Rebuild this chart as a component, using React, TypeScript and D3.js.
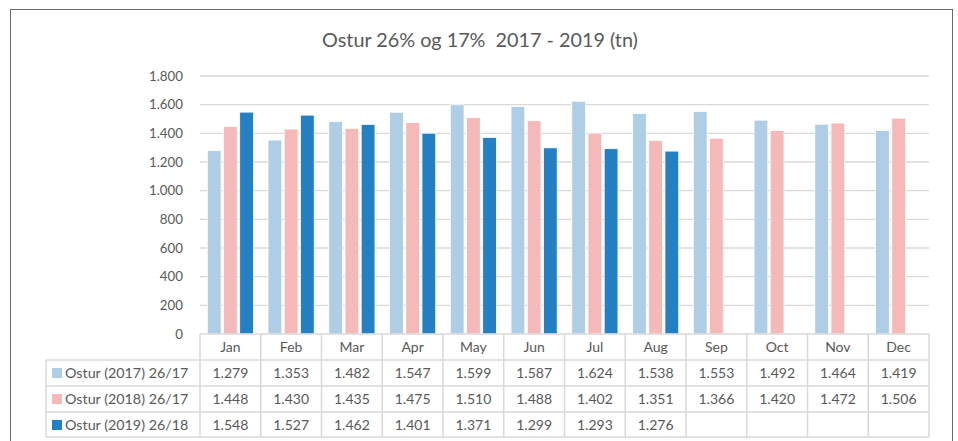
import { useEffect } from 'react';
import * as d3 from 'd3';

const months = ['Jan', 'Feb', 'Mar', 'Apr', 'May', 'Jun', 'Jul', 'Aug', 'Sep', 'Oct', 'Nov', 'Dec'];
const seriesNames = ['Ostur (2017) 26/17', 'Ostur (2018) 26/17', 'Ostur (2019) 26/18'];
const v2017 = [1279, 1353, 1482, 1547, 1599, 1587, 1624, 1538, 1553, 1492, 1464, 1419];
const v2018 = [1448, 1430, 1435, 1475, 1510, 1488, 1402, 1351, 1366, 1420, 1472, 1506];
const v2019: (number | null)[] = [1548, 1527, 1462, 1401, 1371, 1299, 1293, 1276, null, null, null, null];
const yTicks = [0, 200, 400, 600, 800, 1000, 1200, 1400, 1600, 1800];
const colors = ['#B0CDE6', '#F6B9B9', '#2580C3'];

const W = 958;
const H = 441;
const left = 200;
const right = 929;
const top = 76;
const zeroY = 334;
const rowH = 26;
const legendX = 46;
const txt = '#595959';
const grid = '#D9D9D9';
const font = 'Lato, "Open Sans", sans-serif';

const locale = d3.formatLocale({ decimal: ',', thousands: '.', grouping: [3], currency: ['', ''] });
const fmt = locale.format(',d');

function App() {
  useEffect(() => {
    document.body.style.margin = '0';
  }, []);

  const series = [v2017, v2018, v2019];
  const x = d3.scaleBand<string>().domain(months).range([left, right]);
  const inner = d3.scaleBand<number>().domain([0, 1, 2]).range([0, x.bandwidth()]).paddingOuter(0.45).paddingInner(0.15);
  const y = d3.scaleLinear().domain([0, 1800]).range([zeroY, top]);
  const tableBottom = zeroY + rowH * 4 - 1;

  return (
    <svg width={W} height={H} style={{ display: 'block', background: '#fff' }} fontFamily={font}>
      <rect x={10.5} y={9.5} width={942} height={460} fill="#fff" stroke="#6b6b6b" strokeWidth={1} />
      <text x={480} y={47} textAnchor="middle" fontSize={19.8} fill={txt} style={{ whiteSpace: 'pre' }}>
        {'Ostur 26% og 17%  2017 - 2019 (tn)'}
      </text>

      {yTicks.map((t) => (
        <g key={t}>
          {t > 0 && <line x1={left} x2={right} y1={y(t)} y2={y(t)} stroke={grid} strokeWidth={1.3} />}
          <text x={183} y={y(t)} dy="0.35em" textAnchor="end" fontSize={13.3} fill={txt}>
            {fmt(t)}
          </text>
        </g>
      ))}

      {series.map((vals, si) =>
        months.map((m, mi) => {
          const v = vals[mi];
          if (v == null) return null;
          return (
            <rect
              key={`${si}-${m}`}
              x={(x(m) ?? 0) + (inner(si) ?? 0)}
              y={y(v)}
              width={inner.bandwidth()}
              height={zeroY - y(v)}
              fill={colors[si]}
              stroke="#fff"
              strokeWidth={0.8}
            />
          );
        })
      )}

      {/* data table */}
      <g stroke={grid} strokeWidth={1.5} fill="none">
        <line x1={left} x2={right} y1={zeroY} y2={zeroY} />
        {[1, 2, 3, 4].map((r) => (
          <line key={r} x1={legendX} x2={right} y1={zeroY + rowH * r - (r === 4 ? 1 : 0)} y2={zeroY + rowH * r - (r === 4 ? 1 : 0)} />
        ))}
        <line x1={legendX} x2={legendX} y1={zeroY + rowH} y2={tableBottom} />
        {months.map((m) => (
          <line key={m} x1={x(m)} x2={x(m)} y1={zeroY} y2={tableBottom} />
        ))}
        <line x1={right} x2={right} y1={zeroY} y2={tableBottom} />
      </g>

      {months.map((m) => (
        <text key={m} x={(x(m) ?? 0) + x.bandwidth() / 2} y={zeroY + rowH / 2} dy="0.35em" textAnchor="middle" fontSize={14} fill={txt}>
          {m}
        </text>
      ))}

      {series.map((vals, si) => {
        const cy = zeroY + rowH * (si + 1) + rowH / 2;
        return (
          <g key={si}>
            <rect x={52} y={cy - 5} width={10} height={10} fill={colors[si]} />
            <text x={65} y={cy} dy="0.35em" fontSize={14.3} fill={txt}>
              {seriesNames[si]}
            </text>
            {months.map((m, mi) =>
              vals[mi] == null ? null : (
                <text key={m} x={(x(m) ?? 0) + x.bandwidth() / 2} y={cy} dy="0.35em" textAnchor="middle" fontSize={14} fill={txt}>
                  {fmt(vals[mi] as number)}
                </text>
              )
            )}
          </g>
        );
      })}
    </svg>
  );
}

export default App;
